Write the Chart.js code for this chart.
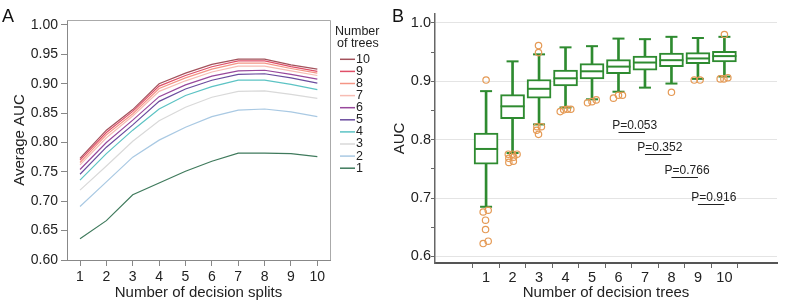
<!DOCTYPE html>
<html lang="en">
<head>
<meta charset="UTF-8">
<title>AUC by decision splits and decision trees</title>
<script src="https://cdn.jsdelivr.net/npm/chart.js"></script>
<style>
  body { margin: 0; background: #fff; }
  #wrap { position: relative; width: 791px; height: 304px; overflow: hidden; }
  canvas { position: absolute; top: 0; }
  #chartA { left: 0; }
  #chartB { left: 385px; }
</style>
</head>
<body>
<div id="wrap">
  <canvas id="chartA" width="390" height="304"></canvas>
  <canvas id="chartB" width="406" height="304"></canvas>
</div>
<script>
// ---- Panel A data: average AUC per number of decision splits, one line per tree count
const splits = [1, 2, 3, 4, 5, 6, 7, 8, 9, 10];
const yTicksA = [0.60, 0.65, 0.70, 0.75, 0.80, 0.85, 0.90, 0.95, 1.00];
const auc1  = [0.636, 0.667, 0.711, 0.731, 0.751, 0.768, 0.782, 0.782, 0.781, 0.776];
const auc2  = [0.691, 0.733, 0.775, 0.804, 0.826, 0.844, 0.855, 0.857, 0.852, 0.844];
const auc3  = [0.719, 0.760, 0.802, 0.837, 0.860, 0.877, 0.887, 0.888, 0.882, 0.875];
const auc4  = [0.736, 0.781, 0.821, 0.857, 0.880, 0.895, 0.906, 0.906, 0.899, 0.890];
const auc5  = [0.746, 0.792, 0.830, 0.870, 0.891, 0.906, 0.916, 0.917, 0.910, 0.901];
const auc6  = [0.754, 0.800, 0.838, 0.878, 0.898, 0.913, 0.922, 0.923, 0.916, 0.908];
const auc7  = [0.762, 0.808, 0.845, 0.887, 0.905, 0.920, 0.930, 0.930, 0.922, 0.914];
const auc8  = [0.766, 0.813, 0.849, 0.892, 0.910, 0.925, 0.935, 0.935, 0.926, 0.918];
const auc9  = [0.770, 0.817, 0.853, 0.896, 0.914, 0.929, 0.939, 0.939, 0.929, 0.921];
const auc10 = [0.773, 0.821, 0.856, 0.900, 0.918, 0.933, 0.942, 0.942, 0.932, 0.925];
const treeLabels = ['10', '9', '8', '7', '6', '5', '4', '3', '2', '1'];
const treeSeries = [auc10, auc9, auc8, auc7, auc6, auc5, auc4, auc3, auc2, auc1];
const treeColors = ['#a3515b', '#e04f68', '#f49585', '#f7bcb3', '#98489c',
                    '#6b4c9e', '#5cc3c4', '#d9d9d9', '#a9c9e3', '#3f7a5c'];

// ---- Panel B data: AUC distribution per number of decision trees
const trees = [1, 2, 3, 4, 5, 6, 7, 8, 9, 10];
const yTicksB = [0.60, 0.65, 0.70, 0.75, 0.80, 0.85, 0.90, 0.95, 1.00];
const whiskerLow  = [0.685, 0.777, 0.826, 0.855, 0.869, 0.882, 0.889, 0.896, 0.904, 0.908];
const q1          = [0.758, 0.836, 0.871, 0.892, 0.904, 0.913, 0.919, 0.925, 0.930, 0.933];
const median      = [0.784, 0.857, 0.887, 0.905, 0.917, 0.925, 0.932, 0.936, 0.939, 0.943];
const q3          = [0.811, 0.877, 0.903, 0.919, 0.930, 0.937, 0.943, 0.948, 0.949, 0.951];
const whiskerHigh = [0.883, 0.934, 0.946, 0.958, 0.960, 0.973, 0.972, 0.976, 0.974, 0.976];
const outlierX = [1.00, 0.89, 1.08, 0.98, 0.98, 0.89, 1.08,
                  1.84, 2.00, 2.17, 1.86, 2.04, 1.86, 2.03,
                  2.98, 2.98, 2.92, 3.09, 2.91, 2.98,
                  3.80, 3.93, 4.07, 4.20,
                  4.83, 5.00, 5.16,
                  5.81, 6.00, 6.15,
                  8.00,
                  8.86, 9.08,
                  10.00, 9.84, 9.98, 10.13];
const outlierY = [0.902, 0.676, 0.679, 0.662, 0.646, 0.622, 0.626,
                  0.775, 0.775, 0.775, 0.768, 0.770, 0.761, 0.763,
                  0.961, 0.949, 0.822, 0.822, 0.816, 0.809,
                  0.848, 0.851, 0.852, 0.852,
                  0.863, 0.865, 0.868,
                  0.871, 0.876, 0.876,
                  0.881,
                  0.902, 0.902,
                  0.980, 0.904, 0.904, 0.906];
const pLabels = ['P=0.053', 'P=0.352', 'P=0.766', 'P=0.916'];
const pFrom   = [6, 7, 8, 9];
const pTo     = [7, 8, 9, 10];
const pLineY  = [0.8135, 0.7756, 0.7367, 0.6892];
const pTextX  = [5.76, 6.71, 7.74, 8.75];
const pTextY  = [0.8242, 0.7870, 0.7470, 0.7000];

const FONT = "'Liberation Sans', Arial, Helvetica, sans-serif";
Chart.defaults.font.family = FONT;
Chart.defaults.color = '#222';
const green = '#2e8b30';

// frame, panel letter and legend for panel A
const panelA = {
  id: 'panelA',
  afterDraw(chart) {
    const { ctx, chartArea: a } = chart;
    ctx.save();
    ctx.strokeStyle = '#aaa';
    ctx.lineWidth = 1;
    ctx.beginPath();
    ctx.moveTo(a.left, a.top + 0.5);
    ctx.lineTo(a.right + 0.5, a.top + 0.5);
    ctx.lineTo(a.right + 0.5, a.bottom);
    ctx.stroke();

    ctx.fillStyle = '#111';
    ctx.font = '18px ' + FONT;
    ctx.fillText('A', 2, 22);

    ctx.font = '12.5px ' + FONT;
    ctx.fillStyle = '#222';
    ctx.textBaseline = 'middle';
    ctx.fillText('Number', 335, 32);
    ctx.fillText('of trees', 337, 44);
    chart.data.datasets.forEach((ds, i) => {
      const y = 59.3 + i * 12.1;
      ctx.strokeStyle = ds.borderColor;
      ctx.lineWidth = 1.5;
      ctx.beginPath();
      ctx.moveTo(340, y);
      ctx.lineTo(355, y);
      ctx.stroke();
      ctx.fillText(ds.label, 356, y);
    });
    ctx.restore();
  }
};

new Chart(document.getElementById('chartA'), {
  type: 'line',
  data: {
    datasets: treeSeries.map((vals, i) => ({
      label: treeLabels[i],
      data: splits.map((s, j) => ({ x: s, y: vals[j] })),
      borderColor: treeColors[i],
      borderWidth: 1.2,
      pointRadius: 0,
      tension: 0
    }))
  },
  options: {
    responsive: false,
    animation: false,
    layout: { padding: { left: 0, top: 20, right: 60, bottom: 0 } },
    plugins: { legend: { display: false }, tooltip: { enabled: false } },
    scales: {
      x: {
        type: 'linear', min: 0.507, max: 10.48,
        afterBuildTicks: s => { s.ticks = splits.map(v => ({ value: v })); },
        afterFit: s => { s.height = 44; },
        ticks: { font: { size: 14 }, padding: 3, color: '#222' },
        grid: { drawOnChartArea: false, tickLength: 6, tickColor: '#888' },
        border: { color: '#888', width: 1 },
        title: { display: true, text: 'Number of decision splits', font: { size: 15 }, padding: { top: 0, bottom: 2 } }
      },
      y: {
        type: 'linear', min: 0.6, max: 1.0085,
        afterBuildTicks: s => { s.ticks = yTicksA.map(v => ({ value: v })); },
        afterFit: s => { s.width = 67; },
        ticks: { font: { size: 14 }, padding: 3, color: '#222', callback: v => v.toFixed(2) },
        grid: { drawOnChartArea: false, tickLength: 6, tickColor: '#888' },
        border: { color: '#888', width: 1 },
        title: { display: true, text: 'Average AUC', font: { size: 15 }, padding: { top: 11, bottom: 0 } }
      }
    }
  },
  plugins: [panelA]
});

// P value notes and panel letter for panel B
const panelB = {
  id: 'panelB',
  afterDatasetsDraw(chart) {
    const { ctx, scales: { x, y } } = chart;
    ctx.save();
    ctx.font = '12px ' + FONT;
    ctx.fillStyle = '#222';
    ctx.strokeStyle = '#222';
    ctx.lineWidth = 1;
    ctx.textBaseline = 'middle';
    pLabels.forEach((t, i) => {
      ctx.fillText(t, x.getPixelForValue(pTextX[i]), y.getPixelForValue(pTextY[i]));
      const ly = Math.round(y.getPixelForValue(pLineY[i])) + 0.5;
      ctx.beginPath();
      ctx.moveTo(x.getPixelForValue(pFrom[i]), ly);
      ctx.lineTo(x.getPixelForValue(pTo[i]), ly);
      ctx.stroke();
    });
    ctx.textBaseline = 'alphabetic';
    ctx.fillStyle = '#111';
    ctx.font = '18px ' + FONT;
    ctx.fillText('B', 7, 22);
    ctx.restore();
  }
};

const isMajor = v => Math.abs(v * 10 - Math.round(v * 10)) < 1e-6;

new Chart(document.getElementById('chartB'), {
  type: 'scatter',
  data: {
    datasets: [
      {
        type: 'scatter', order: 0,
        data: outlierX.map((v, i) => ({ x: v, y: outlierY[i] })),
        pointStyle: 'circle', pointRadius: 3.2, pointBorderWidth: 1.2,
        borderColor: '#e59a55', pointBorderColor: '#e59a55',
        backgroundColor: 'rgba(255,255,255,0)', pointBackgroundColor: 'rgba(255,255,255,0)'
      },
      {
        type: 'scatter', order: 1,
        data: trees.map((t, i) => ({ x: t, y: median[i] })),
        pointStyle: 'line', pointRadius: 12, pointBorderWidth: 2,
        borderColor: green, pointBorderColor: green
      },
      {
        type: 'scatter', order: 1,
        data: trees.map((t, i) => ({ x: t, y: whiskerLow[i] }))
          .concat(trees.map((t, i) => ({ x: t, y: whiskerHigh[i] }))),
        pointStyle: 'line', pointRadius: 6, pointBorderWidth: 2,
        borderColor: green, pointBorderColor: green
      },
      {
        type: 'bar', order: 2, grouped: false,
        data: trees.map((t, i) => ({ x: t, y: [q1[i], q3[i]] })),
        backgroundColor: '#fff', borderColor: green, borderWidth: 2,
        borderSkipped: false, barThickness: 24
      },
      {
        type: 'bar', order: 3, grouped: false,
        data: trees.map((t, i) => ({ x: t, y: [whiskerLow[i], whiskerHigh[i]] })),
        backgroundColor: green, borderWidth: 0, barThickness: 2
      }
    ]
  },
  options: {
    responsive: false,
    animation: false,
    layout: { padding: { left: 0, top: 0, right: 0, bottom: 0 } },
    plugins: { legend: { display: false }, tooltip: { enabled: false } },
    scales: {
      x: {
        type: 'linear', min: -0.283, max: 11.34,
        afterBuildTicks: s => { s.ticks = trees.map(v => ({ value: v })); },
        afterFit: s => { s.height = 41; },
        ticks: { font: { size: 14.5 }, padding: 1, color: '#222' },
        grid: { drawOnChartArea: false, tickLength: 5, tickColor: '#666' },
        border: { color: '#555', width: 2 },
        title: { display: true, text: 'Number of decision trees', font: { size: 15 }, padding: { top: 0, bottom: 2 } }
      },
      y: {
        type: 'linear', min: 0.5887, max: 1.0151,
        afterBuildTicks: s => { s.ticks = yTicksB.map(v => ({ value: v })); },
        afterFit: s => { s.width = 50; },
        ticks: { font: { size: 14.5 }, padding: 0, color: '#222', callback: v => isMajor(v) ? v.toFixed(1) : '' },
        grid: {
          color: c => (c.tick && isMajor(c.tick.value)) ? '#e4e4e4' : 'rgba(0,0,0,0)',
          tickColor: '#666', tickLength: 4
        },
        border: { color: '#666', width: 1.5 },
        title: { display: true, text: 'AUC', font: { size: 15 }, padding: { top: 6, bottom: 0 } }
      }
    }
  },
  plugins: [panelB]
});
</script>
</body>
</html>
